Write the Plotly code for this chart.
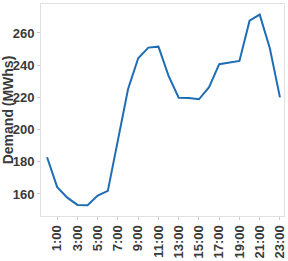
import plotly.graph_objects as go

hours = [f"{h}:00" for h in range(24)]
demand = [182.8, 164.2, 157.7, 153.2, 153.0, 159.0, 161.9, 194.0, 225.2, 244.3,
          250.9, 251.5, 233.3, 219.8, 219.6, 218.8, 226.3, 240.6, 241.8, 242.6,
          267.6, 271.4, 250.5, 220.0]
tick_labels = [f"{h}:00" for h in range(1, 24, 2)]

FAM = "Liberation Sans, Arial, sans-serif"
TXT = "#3a3a3a"

fig = go.Figure()
fig.add_trace(go.Scatter(x=hours, y=demand, mode="lines",
                         line=dict(color="#1f6db5", width=2)))

fig.update_layout(
    width=288, height=261,
    margin=dict(l=41, r=4, t=4, b=45, autoexpand=False),
    paper_bgcolor="white", plot_bgcolor="white",
    showlegend=False,
    font=dict(family=FAM, size=13, color=TXT),
)
fig.update_xaxes(
    type="category", tickvals=tick_labels, ticktext=tick_labels,
    tickangle=-90, showgrid=False, zeroline=False, automargin=False,
    showline=True, linecolor="#e0e0e0", mirror=True,
    ticks="outside", ticklen=3, tickcolor="#cccccc",
    tickfont=dict(family=FAM, size=13, color=TXT, weight="bold"),
    range=[-0.6, 23.4],
)
fig.update_yaxes(
    range=[146.3, 278], tickvals=[160, 180, 200, 220, 240, 260],
    showgrid=False, zeroline=False, automargin=False,
    showline=True, linecolor="#e0e0e0", mirror=True,
    ticks="outside", ticklen=3, tickcolor="#cccccc",
    tickfont=dict(family=FAM, size=13, color=TXT, weight="bold"),
    title=dict(text="Demand\u2009(MWhs)", standoff=2,
               font=dict(family=FAM, size=14, color=TXT, weight="bold")),
)
fig.write_html("out.html", config={"displayModeBar": False},
               post_script="document.body.style.margin='0';document.body.style.overflow='hidden';")
